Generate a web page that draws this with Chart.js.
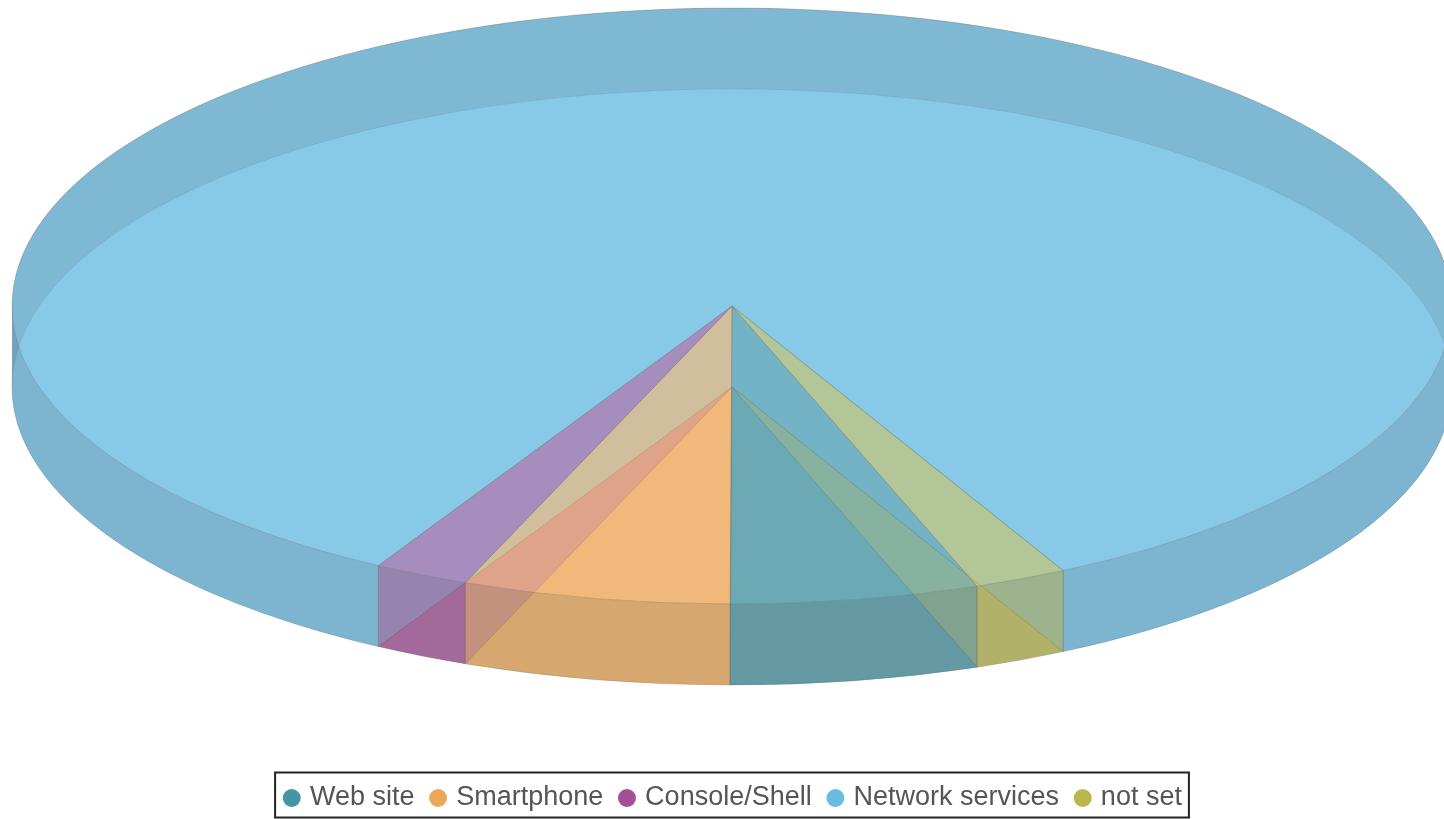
<!DOCTYPE html>
<html>
<head>
<meta charset="utf-8">
<title>Pie 3D</title>
<script src="https://cdn.jsdelivr.net/npm/chart.js@4"></script>
<style>
    html, body { margin: 0; padding: 0; background: #fff; overflow: hidden; }
    canvas { display: block; filter: blur(0.6px); }
</style>
</head>
<body>
<canvas id="pie" width="1444" height="819"></canvas>
<script>
const categories = ["Web site", "Smartphone", "Console/Shell", "Network services", "not set"];
const shares = [5.57, 6.0, 2.13, 84.22, 2.08];
const sliceColors = ["#4694a3", "#eca858", "#a34e96", "#6abbe2", "#b8b74e"];

// the disc is a normal pie, this plugin paints its arcs tilted with a rim
const pie3d = {
    id: "pie3d",
    beforeDatasetsDraw(chart, args, opts) {
        const ctx = chart.ctx;
        const arcs = chart.getDatasetMeta(0).data;
        const top = opts.cy, low = opts.cy + opts.depth;

        const face = (arc, cy) => {
            ctx.beginPath();
            ctx.moveTo(opts.cx, cy);
            ctx.ellipse(opts.cx, cy, opts.rx, opts.ry, 0, arc.startAngle, arc.endAngle);
            ctx.closePath();
            ctx.globalAlpha = opts.alpha;
            ctx.fillStyle = arc.options.backgroundColor;
            ctx.fill();
            ctx.globalAlpha = 1;
            ctx.strokeStyle = opts.edge;
            ctx.lineWidth = 1;
            ctx.stroke();
        };
        const edgeAt = (angle) => {
            const x = opts.cx + opts.rx * Math.cos(angle), y = opts.ry * Math.sin(angle);
            ctx.beginPath();
            ctx.moveTo(x, top + y);
            ctx.lineTo(x, low + y);
            ctx.stroke();
        };
        const wall = (arc, from, to, shade) => {
            ctx.beginPath();
            ctx.ellipse(opts.cx, top, opts.rx, opts.ry, 0, from, to);
            ctx.ellipse(opts.cx, low, opts.rx, opts.ry, 0, to, from, true);
            ctx.closePath();
            ctx.globalAlpha = opts.alpha;
            ctx.fillStyle = darken(arc.options.backgroundColor, shade);
            ctx.fill();
            ctx.globalAlpha = 1;
            ctx.strokeStyle = opts.edge;
            ctx.lineWidth = 1;
            if (from === arc.startAngle) edgeAt(from);
            if (to === arc.endAngle) edgeAt(to);
        };
        // back of the rim is where sin < 0, front where sin > 0
        const walls = (wantBack, shade) => {
            arcs.forEach(arc => {
                for (let k = -2; k < 4; k++) {
                    const from = Math.max(arc.startAngle, k * Math.PI);
                    const to = Math.min(arc.endAngle, (k + 1) * Math.PI);
                    if (to <= from) continue;
                    const isBack = ((k % 2) + 2) % 2 === 1;
                    if (isBack === wantBack) wall(arc, from, to, shade);
                }
            });
        };

        ctx.save();
        arcs.forEach(arc => face(arc, low));
        walls(true, opts.backShade);
        walls(false, opts.frontShade);
        arcs.forEach(arc => face(arc, top));
        ctx.restore();
        return false;
    },
    afterDraw(chart) {
        // frame around the legend
        const boxes = chart.legend.legendHitBoxes;
        const first = boxes[0], last = boxes[boxes.length - 1];
        const ctx = chart.ctx;
        ctx.save();
        ctx.strokeStyle = "#222";
        ctx.lineWidth = 2;
        ctx.strokeRect(first.left - 12, first.top - 12, last.left + last.width - first.left + 19, 45);
        ctx.restore();
    }
};

function darken(hex, f) {
    const n = parseInt(hex.slice(1), 16);
    const r = Math.round((n >> 16) * f), g = Math.round(((n >> 8) & 255) * f), b = Math.round((n & 255) * f);
    return `rgb(${r},${g},${b})`;
}

new Chart(document.getElementById("pie"), {
    type: "pie",
    data: {
        labels: categories,
        datasets: [{ data: shares, backgroundColor: sliceColors, borderWidth: 0 }]
    },
    plugins: [pie3d],
    options: {
        responsive: false,
        animation: false,
        rotation: 160.1,
        layout: { padding: { bottom: -2.5, left: 25 } },
        plugins: {
            tooltip: { enabled: false },
            pie3d: {
                cx: 732, cy: 306, rx: 720, ry: 298, depth: 81,
                alpha: 0.55, frontShade: 0.8, backShade: 0.62,
                edge: "rgba(110,110,110,0.32)"
            },
            legend: {
                position: "bottom",
                labels: {
                    usePointStyle: true,
                    pointStyle: "circle",
                    boxWidth: 9.3,
                    boxHeight: 12.7,
                    padding: 19,
                    color: "#555",
                    font: { family: "'Liberation Sans', Arial, sans-serif", size: 27 }
                }
            }
        }
    }
});
</script>
</body>
</html>
